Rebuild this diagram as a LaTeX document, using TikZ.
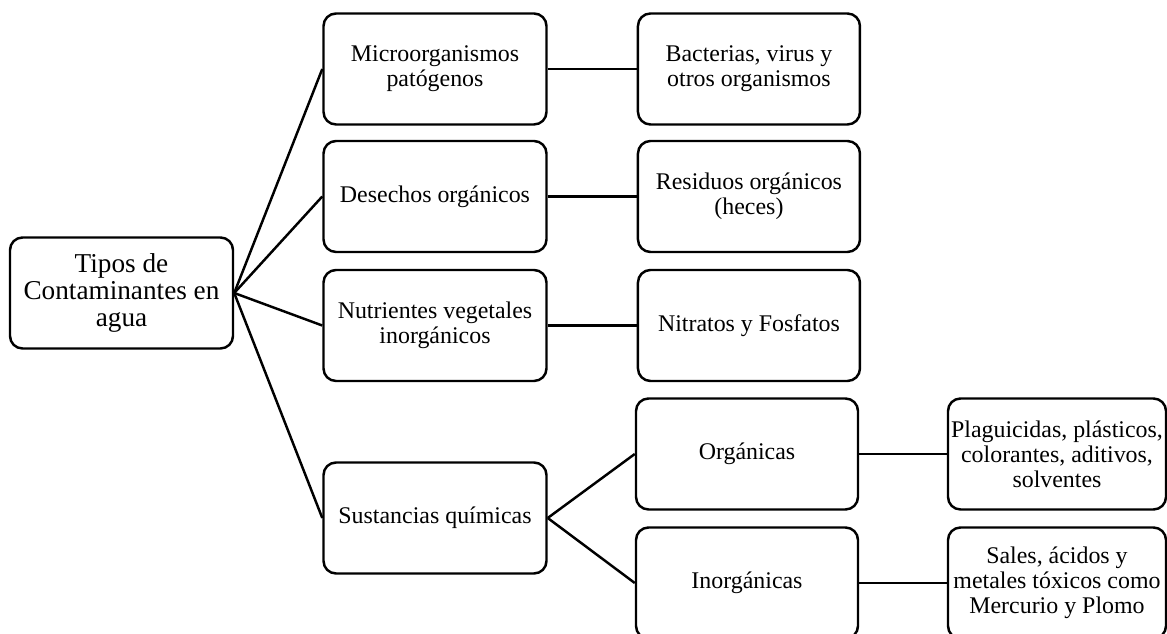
\documentclass[tikz,border=0pt]{standalone}
\usepackage{fontspec}
\setmainfont{Liberation Serif}
\usetikzlibrary{positioning}

\begin{document}
\begin{tikzpicture}[node distance={1.8cm},
	main/.style = {draw, line width=1.4pt, rounded corners=0.25cm, align=center,
		minimum width=4.46cm, minimum height=2.22cm, inner sep=1pt,
		font=\fontsize{13.6}{14.2}\selectfont},
	rootbox/.style = {main, font=\fontsize{15.5}{15.2}\selectfont},
	link/.style = {line width=1.4pt}]
	\useasboundingbox (0,0) rectangle (23.34,-12.68);
	\node[rootbox] (tipos) at (2.43,-5.86) {Tipos de\\Contaminantes en\\agua};
	\node[main] (micro) at (8.7,-1.38) {Microorganismos\\pat\'ogenos};
	\node[main] (desechos) at (8.7,-3.93) {Desechos org\'anicos};
	\node[main] (nutri) at (8.7,-6.51) {Nutrientes vegetales\\inorg\'anicos};
	\node[main] (sust) at (8.7,-10.36) {Sustancias qu\'imicas};
	\draw[link] (tipos.east) -- (micro.west);
	\draw[link] (tipos.east) -- (desechos.west);
	\draw[link] (tipos.east) -- (nutri.west);
	\draw[link] (tipos.east) -- (sust.west);
	\node[main, minimum width=4.44cm] [right=1.78cm of micro] (bact) {Bacterias, virus y\\otros organismos};
	\draw[link] (micro) -- (bact);
	\node[main, minimum width=4.44cm] [right=1.78cm of desechos] (resid) {Residuos org\'anicos\\(heces)};
	\draw[link] (desechos) -- (resid);
	\node[main, minimum width=4.44cm] [right=1.78cm of nutri] (nitra) {Nitratos y Fosfatos};
	\draw[link] (nutri) -- (nitra);
	\node[main, minimum width=4.44cm] (org) at (14.94,-9.08) {Org\'anicas};
	\node[main, minimum width=4.44cm] (inorg) at (14.94,-11.66) {Inorg\'anicas};
	\draw[link] (sust.east) -- (org.west);
	\draw[link] (sust.east) -- (inorg.west);
	\node[main, minimum width=4.36cm] [right of=org, xshift=4.4cm] (plag) {Plaguicidas, pl\'asticos,\\colorantes, aditivos,\\solventes};
	\draw[link] (org) -- (plag);
	\node[main, minimum width=4.36cm] [right of=inorg, xshift=4.4cm] (sales) {Sales, \'acidos y\\metales t\'oxicos como\\Mercurio y Plomo};
	\draw[link] (inorg) -- (sales);
\end{tikzpicture}
\end{document}
